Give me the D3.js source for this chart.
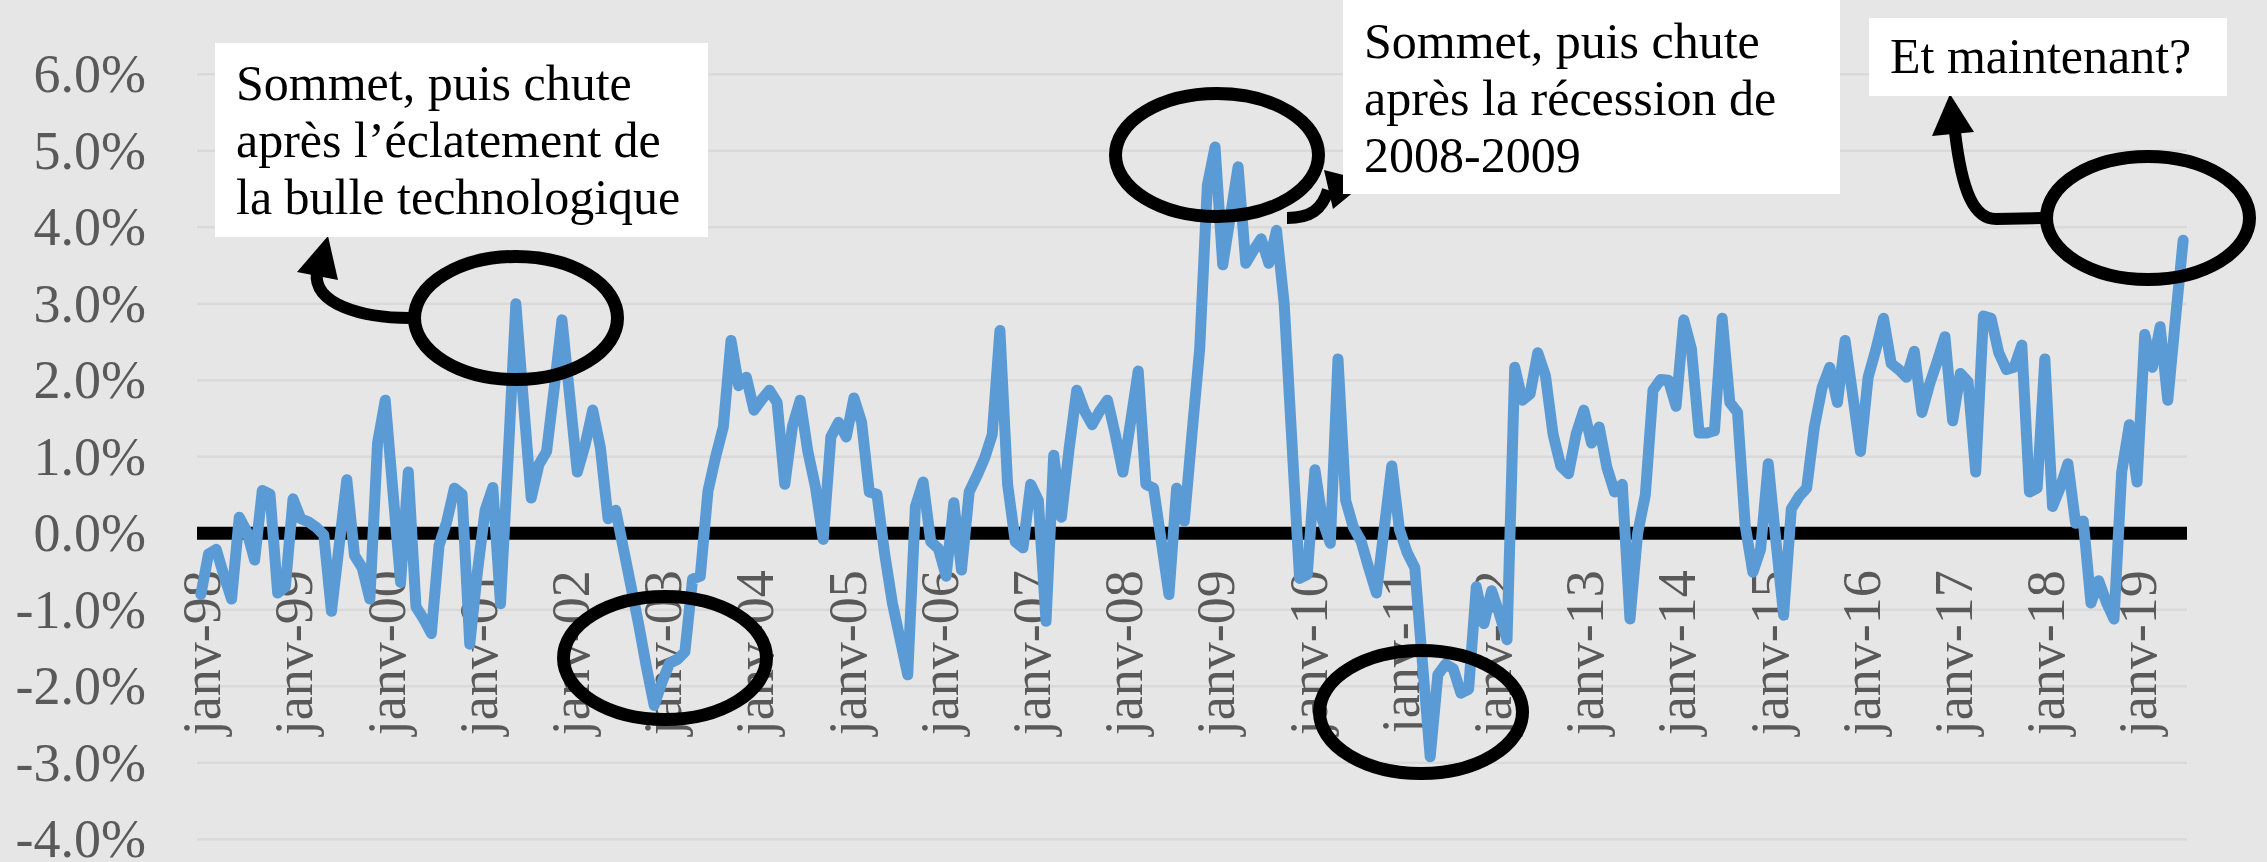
<!DOCTYPE html>
<html>
<head>
<meta charset="utf-8">
<script src="https://cdn.jsdelivr.net/npm/d3@7"></script>
<style>
  html, body { margin: 0; padding: 0; background: #e7e6e6; }
  svg { display: block; }
</style>
</head>
<body>
<div id="chart"></div>
<script>
// monthly values, janv-98 .. juil-19 (%)
const rate = [
  -0.80, -0.27, -0.21, -0.55, -0.86, 0.21, 0.02, -0.35, 0.56, 0.51, -0.78, -0.70,
  0.45, 0.19, 0.15, 0.08, -0.02, -1.02, -0.16, 0.70, -0.29, -0.45, -0.86, 1.18,
  1.74, 0.55, -0.64, 0.80, -0.96, -1.12, -1.31, -0.16, 0.15, 0.59, 0.51, -1.45,
  -0.50, 0.30, 0.60, -0.92, 1.00, 3.00, 1.70, 0.46, 0.90, 1.07, 1.90, 2.79,
  1.80, 0.80, 1.15, 1.61, 1.12, 0.19, 0.30, -0.20, -0.70, -1.20, -1.75, -2.25,
  -1.95, -1.70, -1.65, -1.55, -0.60, -0.56, 0.55, 1.00, 1.39, 2.52, 1.93, 2.04,
  1.61, 1.75, 1.87, 1.71, 0.64, 1.40, 1.74, 1.07, 0.60, -0.08, 1.26, 1.45,
  1.26, 1.77, 1.45, 0.54, 0.51, -0.27, -0.91, -1.38, -1.85, 0.35, 0.67, -0.11,
  -0.20, -0.56, 0.40, -0.48, 0.54, 0.75, 0.98, 1.29, 2.65, 0.64, -0.11, -0.19,
  0.64, 0.43, -1.15, 1.02, 0.21, 1.10, 1.87, 1.60, 1.42, 1.60, 1.74, 1.30,
  0.80, 1.45, 2.12, 0.64, 0.59, -0.10, -0.80, 0.59, 0.16, 1.30, 2.41, 4.55,
  5.05, 3.51, 4.15, 4.79, 3.53, 3.70, 3.85, 3.53, 3.96, 3.00, 1.20, -0.59,
  -0.54, 0.83, 0.16, -0.13, 2.28, 0.43, 0.08, -0.10, -0.45, -0.78, 0.05, 0.88,
  0.05, -0.25, -0.45, -1.70, -2.92, -1.85, -1.71, -1.77, -2.09, -2.04, -0.70, -1.18,
  -0.75, -1.05, -1.39, 2.17, 1.74, 1.82, 2.36, 2.06, 1.29, 0.88, 0.78, 1.30,
  1.61, 1.18, 1.39, 0.86, 0.54, 0.64, -1.12, 0.00, 0.50, 1.87, 2.01, 2.00,
  1.66, 2.79, 2.41, 1.31, 1.31, 1.34, 2.81, 1.71, 1.58, 0.10, -0.51, -0.21,
  0.91, -0.10, -1.07, 0.32, 0.48, 0.59, 1.39, 1.90, 2.17, 1.71, 2.52, 1.80,
  1.07, 2.04, 2.40, 2.81, 2.22, 2.14, 2.04, 2.38, 1.58, 1.95, 2.25, 2.57,
  1.47, 2.09, 1.98, 0.80, 2.84, 2.81, 2.36, 2.14, 2.17, 2.46, 0.54, 0.59,
  2.28, 0.35, 0.60, 0.91, 0.13, 0.16, -0.91, -0.62, -0.90, -1.12, 0.80, 1.42,
  0.67, 2.60, 2.17, 2.70, 1.74, 2.80, 3.83
];

const yearLabels = ['janv-98', 'janv-99', 'janv-00', 'janv-01', 'janv-02', 'janv-03',
  'janv-04', 'janv-05', 'janv-06', 'janv-07', 'janv-08', 'janv-09', 'janv-10', 'janv-11',
  'janv-12', 'janv-13', 'janv-14', 'janv-15', 'janv-16', 'janv-17', 'janv-18', 'janv-19'];

const yTicks = [6, 5, 4, 3, 2, 1, 0, -1, -2, -3, -4];

const notes = [
  ['Sommet, puis chute', 'après l\u2019éclatement de', 'la bulle technologique'],
  ['Sommet, puis chute', 'après la récession de', '2008-2009'],
  ['Et maintenant?']
];

const width = 2267;
const height = 862;
const plotLeft = 197;
const plotRight = 2187;

const svg = d3.select('#chart')
  .append('svg')
  .attr('width', width)
  .attr('height', height);

svg.append('rect')
  .attr('width', width)
  .attr('height', height)
  .attr('fill', '#e7e6e6');

const x = d3.scaleLinear()
  .domain([-0.5, rate.length - 0.5])
  .range([plotLeft, plotRight]);

const y = d3.scaleLinear()
  .domain([-4, 6])
  .range([839.3, 74.3]);

//gridlines
svg.append('g')
  .selectAll('line')
  .data(yTicks.filter(d => d !== 0))
  .join('line')
  .attr('x1', plotLeft)
  .attr('x2', plotRight)
  .attr('y1', d => y(d))
  .attr('y2', d => y(d))
  .style('stroke', '#d9d9d9')
  .style('stroke-width', '2.5px');

//y axis labels
const yAxis = svg.append('g')
  .attr('transform', 'translate(' + (plotLeft - 51) + ',0)')
  .call(d3.axisLeft(y).tickValues(yTicks).tickSize(0).tickPadding(0)
    .tickFormat(d => d.toFixed(1) + '%'));
yAxis.select('.domain').remove();
yAxis.selectAll('text')
  .attr('dy', '0.32em')
  .style('font-family', '"Liberation Serif", serif')
  .style('font-size', '54px')
  .style('fill', '#595959');

//x axis labels, rotated
const xAxis = svg.append('g')
  .attr('transform', 'translate(0,' + y(0) + ')')
  .call(d3.axisBottom(x)
    .tickValues(yearLabels.map((d, i) => i * 12))
    .tickSize(0)
    .tickFormat((d, i) => yearLabels[i]));
xAxis.select('.domain').remove();
xAxis.selectAll('text')
  .attr('transform', 'rotate(-90)')
  .attr('x', -37)
  .attr('y', 0)
  .attr('dy', '0.35em')
  .attr('text-anchor', 'end')
  .style('font-family', '"Liberation Serif", serif')
  .style('font-size', '54px')
  .style('fill', '#595959');

//zero line
svg.append('line')
  .attr('x1', plotLeft)
  .attr('x2', plotRight)
  .attr('y1', y(0))
  .attr('y2', y(0))
  .style('stroke', '#000')
  .style('stroke-width', '13px');

//series
const line = d3.line()
  .x((d, i) => x(i))
  .y(d => y(d));

svg.append('path')
  .datum(rate)
  .attr('d', line)
  .style('fill', 'none')
  .style('stroke', '#5b9bd5')
  .style('stroke-width', '11px')
  .style('stroke-linejoin', 'round')
  .style('stroke-linecap', 'round');

//circles round the peaks and troughs
const rings = [[516, 318], [665, 658], [1217, 155], [1421, 712], [2148, 218]];
svg.append('g')
  .selectAll('ellipse')
  .data(rings)
  .join('ellipse')
  .attr('cx', d => d[0])
  .attr('cy', d => d[1])
  .attr('rx', 101.5)
  .attr('ry', 61.5)
  .style('fill', 'none')
  .style('stroke', '#000')
  .style('stroke-width', '13px');

//curved arrows
const arrows = svg.append('g');
arrows.append('path')
  .attr('d', 'M 410 318 C 362 318, 312 304, 317 272');
arrows.append('path')
  .attr('d', 'M 1287 218 C 1310 218, 1322 210, 1328 190');
arrows.append('path')
  .attr('d', 'M 2042 218 L 1996 219 C 1974 219, 1962 192, 1955 132');
arrows.selectAll('path')
  .style('fill', 'none')
  .style('stroke', '#000')
  .style('stroke-width', '12px');

const heads = [
  [[328, 236], [297, 272], [338, 280]],
  [[1367, 181], [1324, 170], [1333, 209]],
  [[1950, 94], [1932, 136], [1974, 132]]
];
svg.append('g')
  .selectAll('polygon')
  .data(heads)
  .join('polygon')
  .attr('points', d => d.map(p => p.join(',')).join(' '))
  .style('fill', '#000');

//text boxes
const boxes = [
  {x: 215, y: 43, w: 493, h: 194, top: 57},
  {x: 1343, y: 0, w: 497, h: 194, top: 58},
  {x: 1869, y: 18, w: 358, h: 78, top: 55}
];

boxes.forEach((b, k) => {
  const g = svg.append('g');
  g.append('rect')
    .attr('x', b.x)
    .attr('y', b.y)
    .attr('width', b.w)
    .attr('height', b.h)
    .style('fill', '#fff');
  g.append('text')
    .style('font-family', '"Liberation Serif", serif')
    .style('font-size', '50px')
    .style('fill', '#000')
    .selectAll('tspan')
    .data(notes[k])
    .join('tspan')
    .attr('x', b.x + 21)
    .attr('y', (d, i) => b.y + b.top + i * 57)
    .text(d => d);
});
</script>
</body>
</html>
